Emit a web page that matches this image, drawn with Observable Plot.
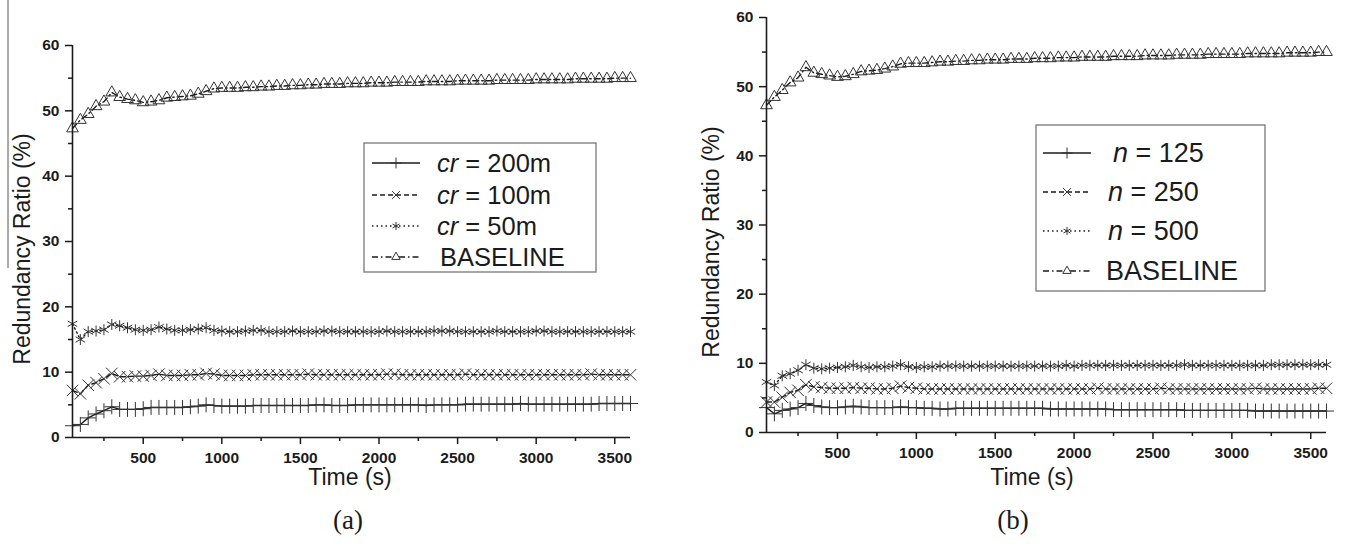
<!DOCTYPE html>
<html>
<head>
<meta charset="utf-8">
<script src="https://cdn.jsdelivr.net/npm/d3@7"></script>
<script src="https://cdn.jsdelivr.net/npm/@observablehq/plot@0.6"></script>
<style>
  body { margin: 0; background: #fff; }
  #fig { position: relative; width: 1346px; height: 547px; overflow: hidden; }
  #fig > svg { position: absolute; top: 0; }
  svg.ratio-panel text {
    font-family: 'Liberation Sans', Arial, Helvetica, sans-serif !important;
    font-size: 15.5px !important;
    font-weight: bold !important;
  }
</style>
</head>
<body>
<div id="fig"></div>
<script>
// Sampling instants (s)
const time = [
  50, 100, 150, 200, 250, 300, 350, 400, 450, 500, 550, 600,
  650, 700, 750, 800, 850, 900, 950, 1000, 1050, 1100, 1150, 1200,
  1250, 1300, 1350, 1400, 1450, 1500, 1550, 1600, 1650, 1700, 1750, 1800,
  1850, 1900, 1950, 2000, 2050, 2100, 2150, 2200, 2250, 2300, 2350, 2400,
  2450, 2500, 2550, 2600, 2650, 2700, 2750, 2800, 2850, 2900, 2950, 3000,
  3050, 3100, 3150, 3200, 3250, 3300, 3350, 3400, 3450, 3500, 3550, 3600
];

// (a) redundancy ratio (%) per communication range
const cr200 = [
  1.8, 2.0, 3.0, 3.6, 4.1, 4.7, 4.3, 4.3, 4.3, 4.4, 4.6, 4.6,
  4.6, 4.6, 4.6, 4.7, 4.8, 5.0, 4.9, 4.8, 4.8, 4.8, 4.8, 4.9,
  4.9, 4.9, 4.9, 4.9, 4.9, 4.9, 4.9, 5.0, 5.0, 4.9, 4.9, 4.9,
  5.0, 5.0, 5.0, 5.0, 5.0, 5.0, 5.0, 5.0, 5.0, 4.9, 5.0, 5.0,
  5.0, 5.0, 5.1, 5.1, 5.1, 5.1, 5.1, 5.1, 5.1, 5.2, 5.1, 5.1,
  5.1, 5.1, 5.1, 5.1, 5.1, 5.1, 5.1, 5.2, 5.2, 5.2, 5.2, 5.2
];
const cr100 = [
  7.2, 6.7, 8.0, 8.4, 9.0, 9.8, 9.3, 9.3, 9.4, 9.4, 9.5, 9.7,
  9.5, 9.5, 9.5, 9.6, 9.6, 9.8, 9.7, 9.5, 9.5, 9.5, 9.5, 9.6,
  9.6, 9.6, 9.6, 9.6, 9.6, 9.6, 9.7, 9.6, 9.6, 9.6, 9.6, 9.6,
  9.6, 9.6, 9.6, 9.6, 9.7, 9.7, 9.6, 9.6, 9.6, 9.6, 9.6, 9.6,
  9.6, 9.6, 9.7, 9.6, 9.6, 9.6, 9.6, 9.6, 9.6, 9.6, 9.6, 9.6,
  9.6, 9.6, 9.6, 9.6, 9.6, 9.6, 9.7, 9.6, 9.6, 9.6, 9.6, 9.6
];
const cr50 = [
  17.4, 15.0, 16.2, 16.3, 16.5, 17.3, 17.1, 16.8, 16.5, 16.4, 16.5, 16.9,
  16.6, 16.4, 16.4, 16.5, 16.6, 16.8, 16.4, 16.3, 16.2, 16.2, 16.3, 16.4,
  16.4, 16.2, 16.2, 16.2, 16.3, 16.2, 16.2, 16.2, 16.3, 16.3, 16.2, 16.2,
  16.2, 16.2, 16.2, 16.2, 16.3, 16.2, 16.2, 16.2, 16.2, 16.2, 16.3, 16.3,
  16.3, 16.2, 16.2, 16.2, 16.2, 16.2, 16.3, 16.2, 16.2, 16.2, 16.2, 16.3,
  16.3, 16.2, 16.2, 16.2, 16.2, 16.2, 16.2, 16.2, 16.2, 16.2, 16.2, 16.2
];
const baselineA = [
  47.3, 48.6, 49.5, 50.7, 51.4, 52.8, 52.1, 51.8, 51.6, 51.3, 51.4, 51.6,
  52.0, 52.1, 52.2, 52.3, 52.6, 53.0, 53.4, 53.5, 53.5, 53.5, 53.6, 53.6,
  53.7, 53.7, 53.8, 53.8, 53.9, 53.9, 54.0, 54.0, 54.1, 54.1, 54.1, 54.2,
  54.2, 54.2, 54.3, 54.3, 54.3, 54.4, 54.4, 54.4, 54.4, 54.5, 54.5, 54.5,
  54.5, 54.6, 54.6, 54.6, 54.6, 54.6, 54.7, 54.7, 54.7, 54.7, 54.7, 54.8,
  54.8, 54.8, 54.8, 54.8, 54.9, 54.9, 54.9, 54.9, 54.9, 55.0, 55.0, 55.0
];

// (b) redundancy ratio (%) per number of nodes
const n125 = [
  3.6, 2.7, 3.2, 3.4, 3.6, 4.2, 3.9, 3.7, 3.6, 3.6, 3.7, 3.8,
  3.7, 3.6, 3.6, 3.6, 3.6, 3.7, 3.6, 3.6, 3.5, 3.5, 3.4, 3.4,
  3.5, 3.5, 3.5, 3.5, 3.5, 3.5, 3.5, 3.5, 3.5, 3.5, 3.5, 3.5,
  3.4, 3.4, 3.4, 3.4, 3.4, 3.4, 3.4, 3.4, 3.3, 3.3, 3.3, 3.3,
  3.3, 3.3, 3.3, 3.3, 3.3, 3.2, 3.2, 3.2, 3.2, 3.2, 3.2, 3.2,
  3.2, 3.2, 3.1, 3.1, 3.1, 3.1, 3.1, 3.1, 3.1, 3.1, 3.1, 3.1
];
const n250 = [
  4.4, 4.4, 5.1, 5.8, 6.1, 6.9, 6.6, 6.5, 6.4, 6.4, 6.4, 6.5,
  6.4, 6.4, 6.3, 6.3, 6.4, 6.7, 6.5, 6.4, 6.3, 6.3, 6.3, 6.3,
  6.3, 6.3, 6.3, 6.3, 6.3, 6.3, 6.3, 6.3, 6.3, 6.3, 6.3, 6.3,
  6.3, 6.3, 6.3, 6.3, 6.3, 6.3, 6.4, 6.3, 6.3, 6.3, 6.3, 6.3,
  6.3, 6.3, 6.4, 6.3, 6.3, 6.3, 6.3, 6.3, 6.3, 6.3, 6.3, 6.3,
  6.3, 6.3, 6.4, 6.3, 6.3, 6.3, 6.3, 6.3, 6.3, 6.3, 6.4, 6.4
];
const n500 = [
  7.3, 6.8, 8.2, 8.5, 9.0, 9.8, 9.3, 9.2, 9.3, 9.4, 9.5, 9.7,
  9.5, 9.4, 9.5, 9.5, 9.6, 9.8, 9.5, 9.4, 9.5, 9.5, 9.6, 9.6,
  9.6, 9.6, 9.6, 9.6, 9.6, 9.6, 9.6, 9.6, 9.6, 9.6, 9.6, 9.6,
  9.6, 9.6, 9.7, 9.6, 9.7, 9.7, 9.7, 9.7, 9.7, 9.7, 9.7, 9.7,
  9.7, 9.7, 9.7, 9.7, 9.7, 9.8, 9.7, 9.7, 9.7, 9.7, 9.7, 9.7,
  9.7, 9.7, 9.7, 9.7, 9.8, 9.8, 9.8, 9.8, 9.8, 9.8, 9.8, 9.8
];
const baselineB = [
  47.3, 48.5, 49.5, 50.6, 51.3, 52.8, 52.0, 51.8, 51.6, 51.4, 51.5, 51.8,
  52.2, 52.3, 52.4, 52.6, 52.9, 53.3, 53.4, 53.4, 53.4, 53.5, 53.6, 53.6,
  53.7, 53.7, 53.8, 53.8, 53.9, 53.9, 53.9, 54.0, 54.0, 54.0, 54.1, 54.1,
  54.1, 54.2, 54.2, 54.2, 54.3, 54.3, 54.3, 54.3, 54.4, 54.4, 54.4, 54.4,
  54.5, 54.5, 54.5, 54.5, 54.6, 54.6, 54.6, 54.6, 54.7, 54.7, 54.7, 54.7,
  54.7, 54.8, 54.8, 54.8, 54.8, 54.8, 54.9, 54.9, 54.9, 54.9, 55.0, 55.0
];

// Axis ticks
const xMajor = [500, 1000, 1500, 2000, 2500, 3000, 3500];
const xMinor = [250, 750, 1250, 1750, 2250, 2750, 3250];
const yMajor = [0, 10, 20, 30, 40, 50, 60];
const yMinor = [5, 15, 25, 35, 45, 55];

// Legend entries
const labelsA = ["200m", "100m", "50m", "BASELINE"];
const labelsB = ["125", "250", "500", "BASELINE"];

// Per-series line/marker styles (shared by both panels)
const styles = [
  { symbol: "plus", r: 4.9, lr: 3.6, dash: null },
  { symbol: "times", r: 5.3, lr: 3.6, dash: "5,3" },
  { symbol: "asterisk", r: 5.2, lr: 3.8, dash: "1.5,3" },
  { symbol: "triangle2", r: 5.6, lr: 4.0, dash: "6,3,1.5,3" }
];

const INK = "#1b1b1b";
const SANS = "'Liberation Sans', Arial, Helvetica, sans-serif";
const fig = d3.select("#fig");

function panel(seriesValues, box) {
  const marks = [];
  seriesValues.forEach((values, k) => {
    const rows = time.map((t, i) => ({ t, v: values[i] }));
    const st = styles[k];
    marks.push(Plot.line(rows, {
      x: "t", y: "v", stroke: INK, strokeWidth: 1.4,
      strokeDasharray: st.dash ?? undefined
    }));
    marks.push(Plot.dot(rows, {
      x: "t", y: "v", symbol: st.symbol, r: st.r,
      stroke: "#333", strokeWidth: 1, fill: "none"
    }));
  });
  const fmt = d => String(d);
  marks.push(
    Plot.axisX(xMinor, { tickSize: 4, strokeWidth: 1.5, tickFormat: () => "" }),
    Plot.axisX(xMajor, { tickSize: 7, tickPadding: 7, strokeWidth: 1.5, tickFormat: fmt }),
    Plot.axisY(yMinor, { tickSize: 4, strokeWidth: 1.5, tickFormat: () => "" }),
    Plot.axisY(yMajor, { tickSize: 7, tickPadding: 6, strokeWidth: 1.5, tickFormat: fmt }),
    Plot.ruleX([50], { stroke: INK, strokeWidth: 1.6 }),
    Plot.ruleY([0], { stroke: INK, strokeWidth: 1.6 })
  );
  const svg = Plot.plot({
    className: "ratio-panel",
    width: box.width,
    height: box.height,
    marginLeft: box.ml,
    marginRight: box.mr,
    marginTop: box.mt,
    marginBottom: box.mb,
    x: { domain: [50, 3600], label: null },
    y: { domain: [0, 60], label: null },
    style: { color: INK, background: "transparent", overflow: "visible" },
    marks
  });
  svg.classList.add("ratio-panel");
  svg.style.left = box.left + "px";
  fig.node().appendChild(svg);
}

panel([cr200, cr100, cr50, baselineA], { left: 0, width: 650, height: 490, ml: 72, mr: 20, mt: 45, mb: 53 });
panel([n125, n250, n500, baselineB], { left: 680, width: 666, height: 490, ml: 86, mr: 20, mt: 17, mb: 58 });

// Titles, legends and captions
const over = fig.append("svg")
  .attr("width", 1346).attr("height", 547)
  .style("left", "0px").style("pointer-events", "none")
  .style("font-family", SANS).style("fill", INK);

function yTitle(cx, cy) {
  over.append("text")
    .attr("transform", `translate(${cx},${cy}) rotate(-90)`)
    .attr("text-anchor", "middle").attr("dominant-baseline", "central")
    .attr("font-size", 23).text("Redundancy Ratio (%)");
}
function xTitle(cx, cy) {
  over.append("text").attr("x", cx).attr("y", cy)
    .attr("text-anchor", "middle").attr("dominant-baseline", "central")
    .attr("font-size", 23).text("Time (s)");
}
function caption(cx, cy, s) {
  over.append("text").attr("x", cx).attr("y", cy)
    .attr("text-anchor", "middle").attr("dominant-baseline", "central")
    .attr("font-family", "'Liberation Serif', 'Times New Roman', serif")
    .attr("font-size", 27).text(s);
}

yTitle(22, 249);
yTitle(711, 242);
xTitle(350, 477);
xTitle(1032, 477);
caption(348, 520, "(a)");
caption(1013, 520, "(b)");

// thin rule along the left edge of panel (a)
over.append("line").attr("x1", 8).attr("x2", 8).attr("y1", 0).attr("y2", 268)
  .attr("stroke", "#555").attr("stroke-width", 1);

function legend(opt) {
  const g = over.append("g");
  g.append("rect").attr("x", opt.x).attr("y", opt.y).attr("width", opt.w).attr("height", opt.h)
    .attr("fill", "#fff").attr("stroke", "#777").attr("stroke-width", 1.3);
  opt.labels.forEach((lab, k) => {
    const cy = opt.rows[k];
    const st = styles[k];
    g.append("line").attr("x1", opt.sx0).attr("x2", opt.sx1).attr("y1", cy).attr("y2", cy)
      .attr("stroke", INK).attr("stroke-width", 1.3)
      .attr("stroke-dasharray", st.dash);
    const sym = { plus: d3.symbolPlus, times: d3.symbolTimes, asterisk: d3.symbolAsterisk, triangle2: d3.symbolTriangle2 }[st.symbol];
    g.append("path").attr("d", d3.symbol(sym, Math.PI * st.lr * st.lr)())
      .attr("transform", `translate(${(opt.sx0 + opt.sx1) / 2},${cy})`)
      .attr("fill", k === 3 ? "#fff" : "none").attr("stroke", "#333").attr("stroke-width", 1);
    const t = g.append("text").attr("x", opt.tx[k]).attr("y", cy)
      .attr("dominant-baseline", "central").attr("font-size", opt.fs);
    if (k < 3) {
      t.append("tspan").attr("font-style", "italic").text(opt.varName);
      t.append("tspan").text(" = " + lab);
    } else {
      t.text(lab);
    }
  });
}

legend({
  x: 364, y: 143, w: 232, h: 129, rows: [163, 195, 226, 257],
  sx0: 372, sx1: 420, tx: [437, 437, 437, 440], fs: 25.5,
  labels: labelsA, varName: "cr"
});
legend({
  x: 1036, y: 125, w: 229, h: 166, rows: [153, 192, 231, 271],
  sx0: 1043, sx1: 1091, tx: [1113, 1108, 1108, 1106], fs: 27,
  labels: labelsB, varName: "n"
});
</script>
</body>
</html>
